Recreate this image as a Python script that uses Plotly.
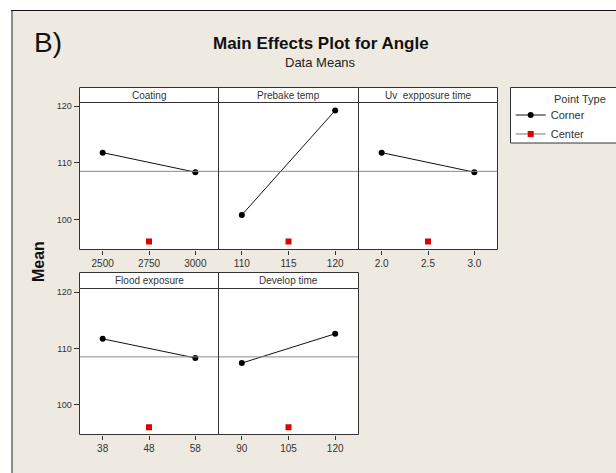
import plotly.graph_objects as go

W, H = 616, 473

# ---- data ----
factors = ["Coating", "Prebake temp", "Uv  expposure time", "Flood exposure", "Develop time"]
low_level = [2500, 110, 2.0, 38, 90]
center_level = [2750, 115, 2.5, 48, 105]
high_level = [3000, 120, 3.0, 58, 120]
tick_labels = [["2500", "2750", "3000"], ["110", "115", "120"], ["2.0", "2.5", "3.0"],
               ["38", "48", "58"], ["90", "105", "120"]]
corner_low_mean = [111.8, 100.8, 111.8, 111.7, 107.4]
corner_high_mean = [108.35, 119.24, 108.35, 108.3, 112.6]
center_mean = [96.1, 96.1, 96.1, 96.0, 96.0]
grand_mean = 108.5
y_ticks = [100, 110, 120]
series_names = ["Corner", "Center"]
legend_title = "Point Type"

# ---- layout geometry (pixels) ----
FONT = "Liberation Sans, Arial, sans-serif"
col_edges = [79.5, 218.5, 358.5, 497.5]
rows = [  # (header top, data top, data bottom)
    (87.5, 102.5, 249.5),
    (272.5, 288.5, 434.5),
]
panel_pos = [(0, 0), (0, 1), (0, 2), (1, 0), (1, 1)]
YR = [94.7, 120.65]
EDGE = "#333333"


def px(x):
    return x / W


def py(y):
    return 1 - y / H


fig = go.Figure()
layout = dict(
    width=W, height=H, margin=dict(l=0, r=0, t=0, b=0, autoexpand=False),
    paper_bgcolor="#EEEAE1", plot_bgcolor="white",
    font=dict(family=FONT, color="#333333"),
)
shapes = []
annotations = []

for i, name in enumerate(factors):
    r, c = panel_pos[i]
    n = i + 1
    xa = "x" if n == 1 else f"x{n}"
    ya = "y" if n == 1 else f"y{n}"
    span = high_level[i] - low_level[i]
    xr = [low_level[i] - 0.25 * span, high_level[i] + 0.25 * span]
    htop, dtop, dbot = rows[r]
    x0, x1 = col_edges[c], col_edges[c + 1]

    layout["xaxis" if n == 1 else f"xaxis{n}"] = dict(
        domain=[px(x0), px(x1)], range=xr, anchor=ya,
        tickvals=[low_level[i], center_level[i], high_level[i]], ticktext=tick_labels[i],
        ticks="outside", ticklen=4, tickcolor=EDGE, tickfont=dict(size=10, color="#333"),
        showline=False, showgrid=False, zeroline=False, fixedrange=True,
    )
    first_col = (c == 0)
    layout["yaxis" if n == 1 else f"yaxis{n}"] = dict(
        domain=[py(dbot), py(dtop)], range=YR, anchor=xa,
        tickvals=y_ticks, showticklabels=first_col,
        ticks="outside" if first_col else "", ticklen=5, tickcolor=EDGE,
        tickfont=dict(size=9, color="#333"),
        showline=False, showgrid=False, zeroline=False, fixedrange=True,
    )

    # grand mean reference line
    shapes.append(dict(type="line", xref=f"{xa} domain", yref=ya, x0=0, x1=1,
                       y0=grand_mean, y1=grand_mean, line=dict(color="#8A8A8A", width=1)))
    # panel frame
    shapes.append(dict(type="rect", xref="paper", yref="paper", x0=px(x0), x1=px(x1),
                       y0=py(dbot), y1=py(dtop), line=dict(color=EDGE, width=1), layer="above"))
    # header strip
    shapes.append(dict(type="rect", xref="paper", yref="paper", x0=px(x0), x1=px(x1),
                       y0=py(dtop), y1=py(htop), fillcolor="white",
                       line=dict(color=EDGE, width=1), layer="above"))
    annotations.append(dict(text=name, xref="paper", yref="paper", x=px((x0 + x1) / 2),
                            y=py((htop + dtop) / 2), showarrow=False,
                            font=dict(size=10, color="#333"), xanchor="center", yanchor="middle"))

    fig.add_trace(go.Scatter(
        x=[low_level[i], high_level[i]], y=[corner_low_mean[i], corner_high_mean[i]],
        xaxis=xa, yaxis=ya, mode="lines+markers", name=series_names[0],
        legendgroup="corner", showlegend=(i == 0), line=dict(color="#111111", width=1),
        marker=dict(symbol="circle", size=6, color="black"), hoverinfo="x+y"))
    fig.add_trace(go.Scatter(
        x=[center_level[i]], y=[center_mean[i]],
        xaxis=xa, yaxis=ya, mode="lines+markers", name=series_names[1],
        legendgroup="center", showlegend=(i == 0), line=dict(color="#777777", width=1),
        marker=dict(symbol="square", size=6, color="#E00000"), hoverinfo="x+y"))

# outer frame (white outside, grey left edge, dark top edge) + legend box
shapes += [
    dict(type="rect", xref="paper", yref="paper", x0=0, x1=px(11), y0=0, y1=1,
         fillcolor="white", line=dict(width=0), layer="below"),
    dict(type="rect", xref="paper", yref="paper", x0=0, x1=1, y0=py(10), y1=1,
         fillcolor="white", line=dict(width=0), layer="below"),
    dict(type="line", xref="paper", yref="paper", x0=px(12), x1=px(12), y0=0, y1=py(10),
         line=dict(color="#8C8C8C", width=2)),
    dict(type="line", xref="paper", yref="paper", x0=px(11), x1=1, y0=py(10.5), y1=py(10.5),
         line=dict(color="#111111", width=1)),
    dict(type="rect", xref="paper", yref="paper", x0=px(510.5), x1=px(640), y0=py(143),
         y1=py(87.5), fillcolor="white", line=dict(color=EDGE, width=1), layer="below"),
]

annotations += [
    dict(text="B)", xref="paper", yref="paper", x=px(32), y=py(42), showarrow=False,
         xanchor="left", yanchor="middle",
         font=dict(size=28, color="#111", family="Liberation Sans Narrow, Liberation Sans, sans-serif")),
    dict(text="<b>Main Effects Plot for Angle</b>", xref="paper", yref="paper", x=px(320.5),
         y=py(44), showarrow=False, xanchor="center", yanchor="middle",
         font=dict(size=17, color="#111")),
    dict(text="Data Means", xref="paper", yref="paper", x=px(320.5), y=py(62), showarrow=False,
         xanchor="center", yanchor="middle", font=dict(size=13, color="#222")),
    dict(text="<b>Mean</b>", xref="paper", yref="paper", x=px(38), y=py(262), showarrow=False,
         textangle=-90, xanchor="center", yanchor="middle", font=dict(size=16, color="#111")),
    dict(text=legend_title, xref="paper", yref="paper", x=px(580), y=py(99), showarrow=False,
         xanchor="center", yanchor="middle", font=dict(size=11, color="#333")),
]

layout["shapes"] = shapes
layout["annotations"] = annotations
layout["legend"] = dict(
    x=px(510.7), y=py(100.5), xanchor="left", yanchor="top",
    bgcolor="rgba(0,0,0,0)", borderwidth=0,
    font=dict(size=11, color="#333"),
    tracegroupgap=0, itemwidth=30,
)
layout["showlegend"] = True
fig.update_layout(**layout)
fig.write_html(
    "out.html",
    config={"displayModeBar": False},
    post_script="document.body.style.margin='0';document.body.style.overflow='hidden';",
)
